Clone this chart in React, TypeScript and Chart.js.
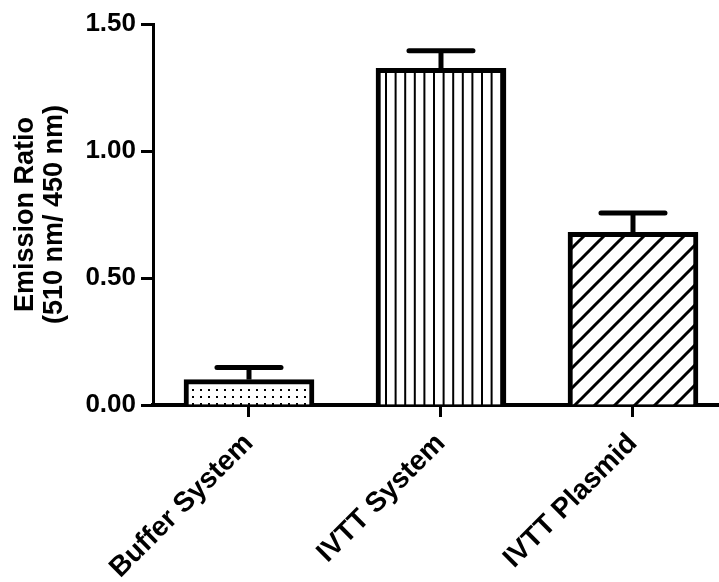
import React, { useEffect, useRef } from "react";
import { Chart, registerables } from "chart.js";

Chart.register(...registerables);

const categories = ["Buffer System", "IVTT System", "IVTT Plasmid"];
const values = [0.10, 1.325, 0.68];
const errors = [0.048, 0.07, 0.076];
const yTicks = [0, 0.5, 1.0, 1.5];

const FONT = "'Liberation Sans', Arial, Helvetica, sans-serif";

function makePattern(kind: string): CanvasPattern | string {
  const c = document.createElement("canvas");
  const g = c.getContext("2d");
  if (!g) return "#fff";
  if (kind === "dots") {
    c.width = 8; c.height = 7;
    g.fillStyle = "#fff"; g.fillRect(0, 0, 8, 7);
    g.fillStyle = "#000"; g.fillRect(0, 4, 2, 2);
  } else if (kind === "vlines") {
    c.width = 48; c.height = 4;
    g.fillStyle = "#fff"; g.fillRect(0, 0, 48, 4);
    g.fillStyle = "#000";
    for (let k = 0; k < 5; k++) g.fillRect(1 + k * 9.6, 0, 2, 4);
  } else {
    c.width = 20; c.height = 20;
    g.fillStyle = "#fff"; g.fillRect(0, 0, 20, 20);
    g.strokeStyle = "#000"; g.lineWidth = 3;
    g.beginPath();
    g.moveTo(-5, 25); g.lineTo(25, -5);
    g.moveTo(-15, 15); g.lineTo(15, -15);
    g.moveTo(5, 35); g.lineTo(35, 5);
    g.stroke();
  }
  return g.createPattern(c, "repeat") || "#fff";
}

const errorBarPlugin = {
  id: "errorBars",
  afterDatasetsDraw(chart: any) {
    const ctx = chart.ctx;
    const meta = chart.getDatasetMeta(0);
    const y = chart.scales.y;
    ctx.save();
    ctx.strokeStyle = "#000";
    ctx.lineWidth = 5;
    meta.data.forEach((bar: any, i: number) => {
      const top = y.getPixelForValue(values[i] + errors[i]);
      ctx.lineCap = "butt";
      ctx.beginPath();
      ctx.moveTo(bar.x, bar.y);
      ctx.lineTo(bar.x, top);
      ctx.stroke();
      ctx.lineCap = "round";
      ctx.beginPath();
      ctx.moveTo(bar.x - 32, top);
      ctx.lineTo(bar.x + 32, top);
      ctx.stroke();
    });
    ctx.restore();
  },
};

export default function App() {
  const ref = useRef<HTMLCanvasElement | null>(null);
  useEffect(() => {
    if (!ref.current) return;
    const patterns = [makePattern("dots"), makePattern("vlines"), makePattern("diag")];
    const chart = new Chart(ref.current, {
      type: "bar",
      data: {
        datasets: [
          {
            data: values.map((v, i) => ({ x: i, y: v })),
            backgroundColor: patterns as any,
            borderColor: "#000",
            borderWidth: 5,
            borderSkipped: "start",
            barThickness: 130,
          },
        ],
      },
      options: {
        animation: false,
        responsive: true,
        maintainAspectRatio: false,
        layout: { padding: { top: 24, left: 0, right: 0, bottom: 0 } },
        plugins: { legend: { display: false }, tooltip: { enabled: false } },
        scales: {
          x: {
            type: "linear",
            offset: false,
            min: -0.5,
            max: 2.448,
            afterBuildTicks: (s: any) => {
              s.ticks = categories.map((_, i) => ({ value: i }));
            },
            afterFit: (s: any) => {
              s.height = 177;
            },
            grid: {
              offset: false,
              drawOnChartArea: false,
              drawTicks: true,
              tickLength: 12,
              tickWidth: 3,
              tickColor: "#000",
            },
            border: { display: true, color: "#000", width: 4 },
            ticks: {
              autoSkip: false,
              minRotation: 45,
              maxRotation: 45,
              padding: 10,
              color: "#000",
              font: { family: FONT, size: 28, weight: "bold" },
              callback: (v: any) => categories[v as number] ?? "",
            },
          },
          y: {
            min: 0,
            max: 1.5,
            afterBuildTicks: (s: any) => {
              s.ticks = yTicks.map((v) => ({ value: v }));
            },
            afterFit: (s: any) => {
              s.width = 153;
            },
            grid: {
              drawOnChartArea: false,
              drawTicks: true,
              tickLength: 12,
              tickWidth: 3,
              tickColor: "#000",
            },
            border: { display: true, color: "#000", width: 3 },
            title: {
              display: true,
              text: ["Emission Ratio", "(510 nm/ 450 nm)"],
              color: "#000",
              font: { family: FONT, size: 27, weight: "bold", lineHeight: 1.07 },
              padding: { top: 11, bottom: 0 },
            },
            ticks: {
              padding: 5,
              color: "#000",
              font: { family: FONT, size: 26, weight: "bold" },
              callback: (v: any) => Number(v).toFixed(2),
            },
          },
        },
      },
      plugins: [errorBarPlugin],
    });
    return () => chart.destroy();
  }, []);
  return (
    <div style={{ position: "fixed", left: 0, top: 0, width: 719, height: 582, background: "#fff" }}>
      <canvas ref={ref} />
    </div>
  );
}
